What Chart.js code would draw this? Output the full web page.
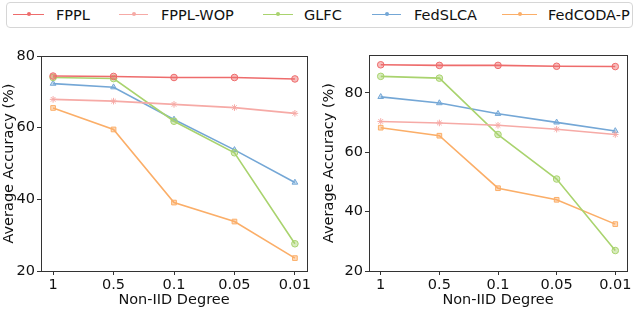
<!DOCTYPE html>
<html>
<head>
<meta charset="utf-8">
<script src="https://cdn.jsdelivr.net/npm/chart.js@4.4.0/dist/chart.umd.min.js"></script>
<style>
  body { margin: 0; background: #fff; font-family: "DejaVu Sans", sans-serif; }
  #wrap { position: relative; width: 640px; height: 309px; overflow: hidden; }
  .cv { position: absolute; top: 0; width: 320px; height: 309px; }
  #legend {
    position: absolute; left: 6px; top: 2px; width: 625px; height: 24px;
    border: 1px solid #d6d6d6; border-radius: 4px; background: #fff; z-index: 2;
  }
  .item { position: absolute; top: 0; height: 24px; font-size: 14.5px; line-height: 24px; color: #111; white-space: nowrap; }
  .sw { position: absolute; top: 11px; height: 0; border-top: 1.5px solid; }
  .mk { position: absolute; top: 9px; width: 4px; height: 4px; border-radius: 50%; }
</style>
</head>
<body>
<div id="wrap">
  <div id="legend"></div>
  <canvas id="leftChart" class="cv" style="left:0" width="320" height="309"></canvas>
  <canvas id="rightChart" class="cv" style="left:320px" width="320" height="309"></canvas>
</div>
<script>
// categories and series values
const degrees = ["1", "0.5", "0.1", "0.05", "0.01"];
const methods = ["FPPL", "FPPL-WOP", "GLFC", "FedSLCA", "FedCODA-P"];

const leftFPPL = [74.4, 74.3, 74.0, 74.0, 73.6];
const leftFPPLWOP = [67.9, 67.4, 66.5, 65.6, 64.0];
const leftGLFC = [74.0, 73.7, 61.8, 53.0, 27.6];
const leftFedSLCA = [72.3, 71.3, 62.3, 53.8, 44.7];
const leftFedCODAP = [65.5, 59.5, 39.1, 33.8, 23.6];

const rightFPPL = [89.5, 89.3, 89.3, 89.0, 88.9];
const rightFPPLWOP = [70.4, 69.9, 69.1, 67.8, 66.0];
const rightGLFC = [85.6, 85.0, 66.0, 51.0, 26.9];
const rightFedSLCA = [78.7, 76.6, 73.0, 70.1, 67.2];
const rightFedCODAP = [68.3, 65.6, 47.9, 44.0, 35.8];

const yTicks = [20, 40, 60, 80];

const colors = ["#ee6c6c", "#f6aaa6", "#a9d36e", "#74a7d6", "#fbae68"];
const fills = ["rgba(238,108,108,0.45)", "rgba(246,170,166,0.5)", "rgba(169,211,110,0.45)",
               "rgba(116,167,214,0.4)", "rgba(251,174,104,0.45)"];
const markers = ["circle", "star", "circle", "triangle", "rect"];

const FONT = "DejaVu Sans";
const FSIZE = 14.5;

// legend (html)
const legendPos = [[6, 37, 49], [112, 141, 154], [256, 286, 297], [365, 394, 407], [495, 530, 541]];
const legendEl = document.getElementById("legend");
methods.forEach((m, i) => {
  const [x0, x1, tx] = legendPos[i];
  legendEl.insertAdjacentHTML("beforeend",
    `<span class="sw" style="left:${x0}px;width:${x1 - x0}px;border-color:${colors[i]}"></span>` +
    `<span class="mk" style="left:${(x0 + x1) / 2 - 2}px;background:${colors[i]}"></span>` +
    `<span class="item" style="left:${tx}px">${m}</span>`);
});

// draws the matplotlib-like frame around the plot area
const framePlugin = {
  id: "frame",
  afterDraw(chart) {
    const a = chart.chartArea;
    const ctx = chart.ctx;
    ctx.save();
    ctx.strokeStyle = "#333";
    ctx.lineWidth = 1;
    ctx.strokeRect(Math.round(a.left) + 0.5, Math.round(a.top) + 0.5,
                   Math.round(a.right - a.left), Math.round(a.bottom - a.top));
    ctx.restore();
  }
};

function makeChart(id, series, yMax, pad, yWidth) {
  const ctx = document.getElementById(id);
  return new Chart(ctx, {
    type: "line",
    data: {
      datasets: series.map((vals, i) => ({
        label: methods[i],
        data: vals.map((v, k) => ({ x: k, y: v })),
        borderColor: colors[i],
        backgroundColor: fills[i],
        pointBorderColor: colors[i],
        pointBackgroundColor: fills[i],
        pointStyle: markers[i],
        pointRadius: 3.3,
        pointBorderWidth: 1,
        borderWidth: 1.6,
        tension: 0
      }))
    },
    options: {
      responsive: false,
      animation: false,
      layout: { padding: pad },
      plugins: { legend: { display: false }, tooltip: { enabled: false } },
      scales: {
        x: {
          type: "linear",
          min: -0.2,
          max: 4.2,
          afterBuildTicks: s => { s.ticks = degrees.map((d, k) => ({ value: k })); },
          afterFit: s => { s.height = 38; },
          grid: { drawOnChartArea: false, drawTicks: true, tickLength: 4, color: "#333" },
          border: { display: false },
          ticks: {
            color: "#111", padding: 2, maxRotation: 0,
            font: { family: FONT, size: FSIZE },
            callback: v => degrees[v]
          },
          title: {
            display: true, text: "Non-IID Degree", color: "#111",
            font: { family: FONT, size: FSIZE }, padding: { top: 0, bottom: 0 }
          }
        },
        y: {
          min: 20,
          max: yMax,
          afterBuildTicks: s => { s.ticks = yTicks.map(v => ({ value: v })); },
          afterFit: s => { s.width = yWidth; },
          grid: { drawOnChartArea: false, drawTicks: true, tickLength: 4, color: "#333" },
          border: { display: false },
          ticks: { color: "#111", padding: 2, font: { family: FONT, size: FSIZE } },
          title: {
            display: true, text: "Average Accuracy (%)", color: "#111",
            font: { family: FONT, size: FSIZE }, padding: { top: 0, bottom: 2 }
          }
        }
      }
    },
    plugins: [framePlugin]
  });
}

makeChart("leftChart",
  [leftFPPL, leftFPPLWOP, leftGLFC, leftFedSLCA, leftFedCODAP],
  80, { top: 56, right: 13, bottom: 0, left: 1 }, 40);

makeChart("rightChart",
  [rightFPPL, rightFPPLWOP, rightGLFC, rightFedSLCA, rightFedCODAP],
  92.8, { top: 55, right: 13, bottom: 0, left: 1 }, 48);
</script>
</body>
</html>
